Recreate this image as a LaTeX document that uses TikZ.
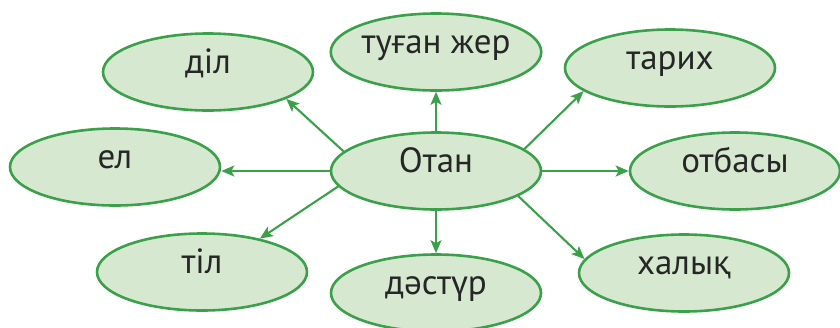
\documentclass[tikz,border=0pt]{standalone}
\usepackage{fontspec}
\setmainfont{PT Sans}
\usetikzlibrary{shapes.geometric,arrows.meta}
\definecolor{ringgreen}{RGB}{58,160,74}
\definecolor{fillgreen}{RGB}{214,233,208}
\definecolor{txtgray}{RGB}{38,38,38}
\tikzset{
  bubble/.style={ellipse, draw=ringgreen, fill=fillgreen, line width=2.6pt,
    minimum width=210pt, minimum height=77pt, inner sep=0pt,
    text=txtgray, font=\fontsize{35}{40}\selectfont, text height=0.3em, text depth=0pt},
  link/.style={draw=ringgreen, line width=2.1pt, -{Stealth[length=13pt,width=11pt,inset=3pt]}}
}
\begin{document}
\begin{tikzpicture}[x=1pt,y=-1pt]
\useasboundingbox (0,0) rectangle (840,327);
\node[bubble] (otan) at (436,171) {Отан};
\node[bubble] (dil) at (208,72) {діл};
\node[bubble] (tugan) at (436,52) {туған жер};
\node[bubble] (tarih) at (670,68) {тарих};
\node[bubble] (el) at (115,167) {ел};
\node[bubble] (otbasy) at (735,171) {отбасы};
\node[bubble] (til) at (202,272) {тіл};
\node[bubble] (dastur) at (436,293) {дәстүр};
\node[bubble] (halyk) at (684,273) {халық};
\draw[link] (otan.north) -- (tugan.south);
\draw[link] (otan.168.6) -- (dil.-19.9);
\draw[link] (otan.14.5) -- (tarih.195.4);
\draw[link] (otan.west) -- (otan.west -| el.east);
\draw[link] (otan.east) -- (otbasy.west);
\draw[link] (otan.189.3) -- (til.30.4);
\draw[link] (otan.south) -- (dastur.north);
\draw[link] (otan.-17.6) -- (halyk.172.1);
\end{tikzpicture}
\end{document}
